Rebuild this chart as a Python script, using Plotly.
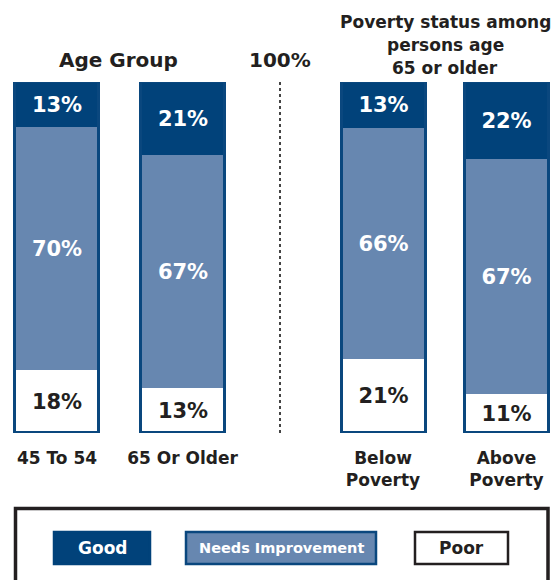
import plotly.graph_objects as go

# ---- data ----
age_groups = ["45 To 54", "65 Or Older"]
poverty_groups = ["Below<br>Poverty", "Above<br>Poverty"]
age_good = [13, 21]
age_needs = [70, 67]
age_poor = [18, 13]
pov_good = [13, 22]
pov_needs = [66, 67]
pov_poor = [21, 11]

# ---- styling ----
FONT = "DejaVu Sans"
DARK = "#01427A"
MID = "#6787B0"
TXT = "#231F20"
OUTLINE = "#0A477E"

W, H = 559, 580
MT, MB = 82, 147
PH = H - MT - MB


def px_x(px):
    return px / W


def px_y(py):
    return (H - MB - py) / PH


def shares(g, n, p):
    tot = [a + b + c for a, b, c in zip(g, n, p)]
    return ([a / t * 100 for a, t in zip(g, tot)],
            [b / t * 100 for b, t in zip(n, tot)],
            [c / t * 100 for c, t in zip(p, tot)])


fig = go.Figure()


def add_group(cats, g, n, p, xa, xo, width):
    sg, sn, sp = shares(g, n, p)
    common = dict(x=cats, xaxis=xa, yaxis="y", width=width, textposition="inside",
                  insidetextanchor="middle", constraintext="none", showlegend=False,
                  hoverinfo="skip")
    fig.add_trace(go.Bar(y=sp, text=[f"{v}%" for v in p], name="Poor",
                         marker=dict(color="white", line=dict(width=0)),
                         textfont=dict(family=FONT, size=21, color=TXT, weight=700), **common))
    fig.add_trace(go.Bar(y=sn, text=[f"{v}%" for v in n], name="Needs Improvement",
                         marker=dict(color=MID, line=dict(width=0)),
                         textfont=dict(family=FONT, size=21, color="white", weight=700), **common))
    fig.add_trace(go.Bar(y=sg, text=[f"{v}%" for v in g], name="Good",
                         marker=dict(color=DARK, line=dict(width=0)),
                         textfont=dict(family=FONT, size=21, color="white", weight=700), **common))
    totals = [a + b + c for a, b, c in zip(sg, sn, sp)]
    fig.add_trace(go.Bar(x=cats, y=totals, xaxis=xo, yaxis="y", width=width,
                         marker=dict(color="rgba(0,0,0,0)", line=dict(width=2.6, color=OUTLINE)),
                         showlegend=False, hoverinfo="skip"))


# left subplot: bar centres at 57 and 182.5 px
uL = 125.5
rngL = [-57 / uL, (W / 2 - 57) / uL]
# right subplot: bar centres at 383 and 506.5 px
uR = 123.5
rngR = [-(383 - W / 2) / uR, (W - 383) / uR]

add_group(age_groups, age_good, age_needs, age_poor, "x", "x3", 84 / uL)
add_group(poverty_groups, pov_good, pov_needs, pov_poor, "x2", "x4", 84 / uR)

tickfont = dict(family=FONT, size=17, color=TXT, weight=700)
xcommon = dict(showgrid=False, zeroline=False, showline=False, ticks="", tickfont=tickfont,
               ticklabelstandoff=13, fixedrange=True)
fig.update_layout(
    width=W, height=H,
    margin=dict(l=0, r=0, t=MT, b=MB, pad=0),
    paper_bgcolor="white", plot_bgcolor="white",
    barmode="stack", bargap=0,
    xaxis=dict(domain=[0, 0.5], range=rngL, anchor="y", **xcommon),
    xaxis2=dict(domain=[0.5, 1], range=rngR, anchor="y", **xcommon),
    xaxis3=dict(overlaying="x", matches="x", visible=False, anchor="y"),
    xaxis4=dict(overlaying="x2", matches="x2", visible=False, anchor="y"),
    yaxis=dict(range=[0, 100], visible=False, fixedrange=True),
    showlegend=False,
)

ann = []
ann.append(dict(text="Age Group", x=px_x(118), y=px_y(60)))
ann.append(dict(text="100%", x=px_x(280), y=px_y(60)))
for a in ann:
    a.update(xref="paper", yref="paper", xanchor="center", yanchor="middle", showarrow=False,
             font=dict(family=FONT, size=20, color=TXT, weight=700))
title_lines = ["Poverty status among", "persons age", "65 or older"]
for i, line in enumerate(title_lines):
    ann.append(dict(text=line, x=px_x(445), y=px_y(22 + 23 * i),
                    xref="paper", yref="paper", xanchor="center", yanchor="middle", showarrow=False,
                    font=dict(family=FONT, size=17, color=TXT, weight=700)))

# legend
shapes = [
    dict(type="line", xref="paper", yref="paper", x0=px_x(280), x1=px_x(280), y0=px_y(82), y1=px_y(433),
         line=dict(color="#444444", width=2, dash="dot")),
    dict(type="rect", xref="paper", yref="paper", x0=px_x(15.5), x1=px_x(548), y0=px_y(508.5), y1=px_y(610),
         line=dict(color=TXT, width=3.5), fillcolor="rgba(0,0,0,0)"),
]
legend_items = [
    ("Good", 54, 150, DARK, DARK, "white", 17),
    ("Needs Improvement", 186, 376, MID, OUTLINE, "white", 14.5),
    ("Poor", 415, 508, "white", TXT, TXT, 17),
]
for name, x0, x1, fill, line, tc, fs in legend_items:
    shapes.append(dict(type="rect", xref="paper", yref="paper", x0=px_x(x0), x1=px_x(x1),
                       y0=px_y(532), y1=px_y(564), fillcolor=fill, line=dict(color=line, width=2.5)))
    ann.append(dict(text=name, x=px_x((x0 + x1) / 2), y=px_y(548), xref="paper", yref="paper",
                    xanchor="center", yanchor="middle", showarrow=False,
                    font=dict(family=FONT, size=fs, color=tc, weight=700)))

fig.update_layout(annotations=ann, shapes=shapes)
fig.write_html("out.html")
